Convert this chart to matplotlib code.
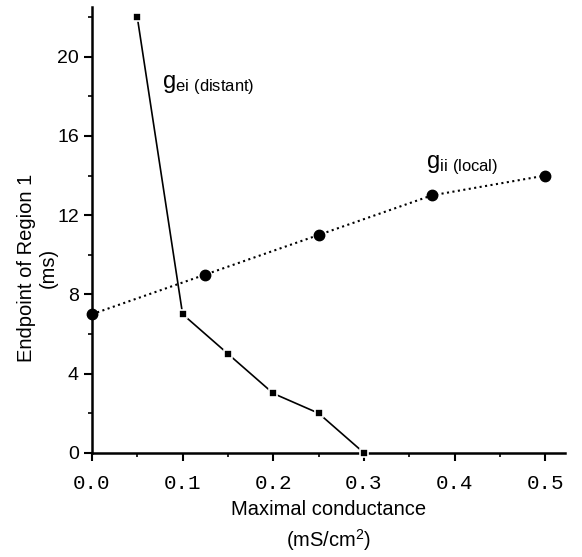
import matplotlib
matplotlib.use("Agg")
import matplotlib.pyplot as plt
from matplotlib.ticker import MultipleLocator

plt.rcParams['font.family'] = ['Liberation Sans', 'DejaVu Sans']
plt.rcParams['mathtext.default'] = 'regular'

# distant excitatory-to-inhibitory conductance
gei_x = [0.05, 0.1, 0.15, 0.2, 0.25, 0.3]
gei_y = [22, 7, 5, 3, 2, 0]

# local inhibitory-to-inhibitory conductance
gii_x = [0.0, 0.125, 0.25, 0.375, 0.5]
gii_y = [7, 9, 11, 13, 14]

x_ticks = [0.0, 0.1, 0.2, 0.3, 0.4, 0.5]
y_ticks = [0, 4, 8, 12, 16, 20]

fig = plt.figure(figsize=(5.82, 5.57), dpi=100)
ax = fig.add_axes([0.158, 0.187, 0.813, 0.80])

ax.plot(gei_x, gei_y, '-', color='black', lw=1.2, marker='s', ms=6,
        mfc='black', mec='white', mew=1.2, clip_on=False, zorder=3)
ax.plot(gii_x, gii_y, ':', color='black', lw=1.5, marker='o', ms=7.5,
        mfc='black', mec='black', clip_on=False, zorder=3)

ax.text(0.077, 18.4, r'g$_{ei\ (distant)}$', fontsize=17)
ax.text(0.369, 14.4, r'g$_{ii\ (local)}$', fontsize=17)

ax.set_xlim(0, 0.522)
ax.set_ylim(0, 22.5)
ax.set_xticks(x_ticks)
ax.set_xticklabels(['%.1f' % v for v in x_ticks], family='Liberation Mono', fontsize=15)
ax.set_yticks(y_ticks)
ax.set_yticklabels([str(v) for v in y_ticks], fontsize=14)
ax.xaxis.set_minor_locator(MultipleLocator(0.05))
ax.yaxis.set_minor_locator(MultipleLocator(2))
ax.tick_params(which='major', direction='out', length=6, width=1.5)
ax.tick_params(axis='x', which='major', pad=9)
ax.tick_params(which='minor', direction='out', length=3, width=1.2)

for side in ['top', 'right']:
    ax.spines[side].set_visible(False)
for side in ['left', 'bottom']:
    ax.spines[side].set_linewidth(1.8)

ax.set_xlabel('Maximal conductance\n(mS/cm$^2$)', fontsize=14.5, linespacing=1.45)
ax.xaxis.set_label_coords(0.5, -0.105)
ax.set_ylabel('Endpoint of Region 1\n(ms)', fontsize=14.5, linespacing=1.2)
ax.yaxis.set_label_coords(-0.072, 0.415)

fig.savefig('out.png', dpi=100)
